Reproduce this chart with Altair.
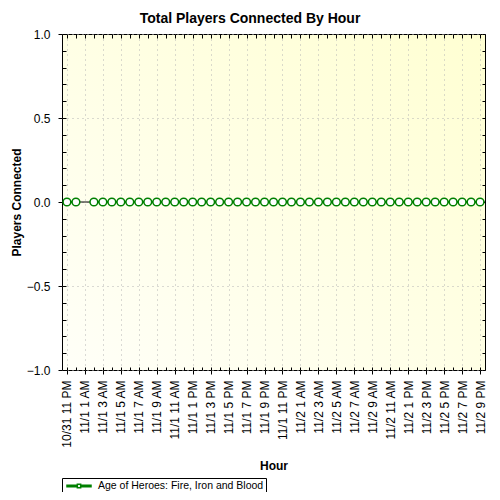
import altair as alt
import pandas as pd

FONT = "Liberation Sans"
GREEN = "#008000"

# one sample per hour, 10/31 11 PM .. 11/2 9 PM
hours = pd.date_range("2013-10-31 23:00", "2013-11-02 21:00", freq="h")
# players connected (11/1 1 AM has no sample)
players = [0, 0, None, 0, 0, 0, 0, 0, 0, 0,
           0, 0, 0, 0, 0, 0, 0, 0, 0, 0,
           0, 0, 0, 0, 0, 0, 0, 0, 0, 0,
           0, 0, 0, 0, 0, 0, 0, 0, 0, 0,
           0, 0, 0, 0, 0, 0, 0]
series_name = "Age of Heroes: Fire, Iron and Blood"

hour_ms = [int(t.value // 1_000_000) for t in hours]
x_major = hour_ms[::2]          # labelled ticks every two hours
x_minor = hour_ms               # ticks every hour
y_major = [-1.0, -0.5, 0.0, 0.5, 1.0]
y_minor = [-1.0, -0.9, -0.8, -0.7, -0.6, -0.5, -0.4, -0.3, -0.2, -0.1, 0.0,
           0.1, 0.2, 0.3, 0.4, 0.5, 0.6, 0.7, 0.8, 0.9, 1.0]

df = pd.DataFrame({"t": hour_ms, "players": players, "series": series_name})
zero_df = pd.DataFrame({"zero": [0.0]})

W, H = 423, 336
half_hour = 33 * 60 * 1000
xscale = alt.Scale(type="utc", domain=[hour_ms[0] - half_hour, hour_ms[-1] + half_hour], nice=False)
yscale = alt.Scale(domain=[-1, 1], nice=False, zero=False)


def inner_axis(orient, values, size):
    return alt.Axis(orient=orient, values=values, offset=-size, tickSize=size,
                    tickColor="black", tickWidth=1, labels=False, domain=False,
                    grid=False, title=None)


x_major_axis = alt.Axis(
    orient="bottom", values=x_major,
    labelExpr="utcFormat(datum.value, '%-m/%-d %-I %p')",
    labelAngle=-90, labelFont=FONT, labelFontSize=12, labelColor="black",
    labelPadding=6, labelOverlap=False, labelFlush=False,
    tickSize=4, tickColor="black", tickWidth=1, domain=False,
    grid=True, gridColor="#b4b4b4", gridDash=[1, 4], gridWidth=1,
    title="Hour", titleFont=FONT, titleFontSize=12, titleFontWeight="bold",
    titleColor="black", titleX=W / 2, titleY=95, titleAlign="center",
    titleBaseline="middle", titleAngle=0)

y_major_axis = alt.Axis(
    orient="left", values=y_major, format=".1f",
    labelFont=FONT, labelFontSize=12, labelColor="black", labelPadding=8,
    tickSize=4, tickColor="black", tickWidth=1, domain=False,
    grid=True, gridColor="#b4b4b4", gridDash=[1, 4], gridWidth=1,
    title="Players Connected", titleFont=FONT, titleFontSize=12,
    titleFontWeight="bold", titleColor="black", titleX=-46, titleY=H / 2,
    titleAngle=-90, titleAlign="center", titleBaseline="middle")

axes_layer = alt.Chart(df).mark_point(opacity=0, size=1).encode(
    x=alt.X("t:T", scale=xscale, axis=x_major_axis),
    y=alt.Y("players:Q", scale=yscale, axis=y_major_axis),
)

zero_rule = alt.Chart(zero_df).mark_rule(color="black", strokeWidth=1).encode(
    y=alt.Y("zero:Q", scale=yscale, axis=inner_axis("right", y_minor, 3)),
)

# legend glyph: thick line with a hollow square marker in the middle
legend_symbol = ("M-2.4,-0.14H-0.33V0.14H-2.4Z M0.33,-0.14H2.4V0.14H0.33Z "
                 "M-0.33,-0.33H0.33V0.33H-0.33Z")

line = alt.Chart(df).mark_line(strokeWidth=2,
                               invalid="break-paths-filter-domains").encode(
    x=alt.X("t:T", scale=xscale, axis=inner_axis("top", x_minor, 4)),
    y=alt.Y("players:Q", scale=yscale, axis=inner_axis("left", y_minor, 4)),
    color=alt.Color("series:N", scale=alt.Scale(range=[GREEN]), legend=alt.Legend(
        orient="none", legendX=0, legendY=444, title=None,
        strokeColor="black", fillColor="white", padding=2, cornerRadius=0,
        symbolType=legend_symbol, symbolSize=100, symbolOffset=9,
        labelOffset=13, labelLimit=0, labelFont=FONT, labelFontSize=10.5,
        labelColor="black")),
)

points = alt.Chart(df).mark_point(
    shape="circle", filled=True, fill="white", stroke=GREEN, strokeWidth=1.5,
    size=60, opacity=1).encode(
    x=alt.X("t:T", scale=xscale, axis=inner_axis("bottom", x_minor, 3)),
    y=alt.Y("players:Q", scale=yscale, axis=None),
)

bg_expr = ("{gradient: 'linear', x1: 0, y1: 1, x2: 1, y2: 0, "
           "stops: [{offset: 0, color: '#fffff8'}, {offset: 1, color: '#ffffd2'}]}")

chart = alt.layer(axes_layer, zero_rule, line, points).resolve_axis(
    x="independent", y="independent"
).properties(
    width=W, height=H,
    autosize=alt.AutoSizeParams(type="none"),
    padding={"left": 54, "top": 26, "right": 7, "bottom": 122},
    title=alt.TitleParams("Total Players Connected By Hour", font=FONT, fontSize=14,
                          fontWeight="bold", color="black", anchor="middle",
                          frame="group", dx=-23.5, offset=2),
    view=alt.ViewBackground(fill=alt.ExprRef(expr=bg_expr), stroke="black", strokeWidth=1),
).configure(background="white")

chart.save("out.html", embed_options={"renderer": "svg", "actions": False})
